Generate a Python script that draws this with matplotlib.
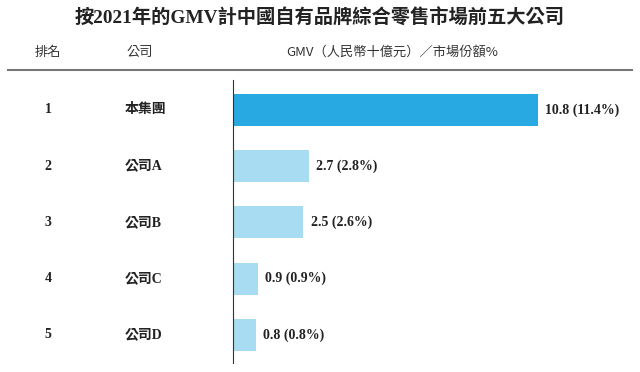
import matplotlib.pyplot as plt
import matplotlib.transforms as mtransforms
from matplotlib.lines import Line2D

plt.rcParams['font.family'] = ['Liberation Serif', 'Noto Sans CJK TC', 'DejaVu Sans']

ranks = ['1', '2', '3', '4', '5']
companies = ['本集團', '公司A', '公司B', '公司C', '公司D']
gmv = [10.8, 2.7, 2.5, 0.9, 0.8]
share = [11.4, 2.8, 2.6, 0.9, 0.8]

title = '按2021年的GMV計中國自有品牌綜合零售市場前五大公司'
headers = ['排名', '公司', 'GMV（人民幣十億元）／市場份額%']

fig = plt.figure(figsize=(6.4, 3.72), dpi=100)
ax = fig.add_axes([233/640, 1 - 363/372, 399/640, 283/372])

colors = ['#29a9e1'] + ['#a8dcf3'] * 4
ypos = list(range(len(gmv)))
ax.barh(ypos, gmv, height=0.57, color=colors)
ax.set_xlim(0, 14.15)
ax.set_ylim(4.5, -0.53)

for s in ['top', 'right', 'bottom']:
    ax.spines[s].set_visible(False)
ax.spines['left'].set_linewidth(0.8)
ax.spines['left'].set_color('#333333')
ax.set_xticks([])
ax.set_yticks([])

for y, v, p in zip(ypos, gmv, share):
    ax.text(v + 0.25, y, f'{v} ({p}%)', va='center', ha='left',
            fontsize=10, fontweight='bold', color='#222222')

trans = mtransforms.blended_transform_factory(fig.transFigure, ax.transData)
for y, r, c in zip(ypos, ranks, companies):
    ax.text(48/640, y, r, transform=trans, va='center', ha='center',
            fontsize=10, fontweight='bold', color='#222222')
    ax.text(125/640, y, c, transform=trans, va='center', ha='left',
            fontsize=10, fontweight='semibold', color='#222222')

fig.text(0.5, 1 - 18/372, title, ha='center', va='center',
         fontsize=13.9, fontweight='semibold', color='#222222')
fig.text(48/640, 1 - 52/372, headers[0], ha='center', va='center',
         fontsize=9.5, color='#333333', family=['Noto Sans CJK TC'])
fig.text(140/640, 1 - 52/372, headers[1], ha='center', va='center',
         fontsize=9.5, color='#333333', family=['Noto Sans CJK TC'])
fig.text(392/640, 1 - 52/372, headers[2], ha='center', va='center',
         fontsize=9.5, color='#333333', family=['Noto Sans CJK TC'])

fig.add_artist(Line2D([8/640, 632/640], [1 - 70/372, 1 - 70/372],
                      transform=fig.transFigure, color='#777777', linewidth=1.5))

fig.savefig('out.png', dpi=100)
